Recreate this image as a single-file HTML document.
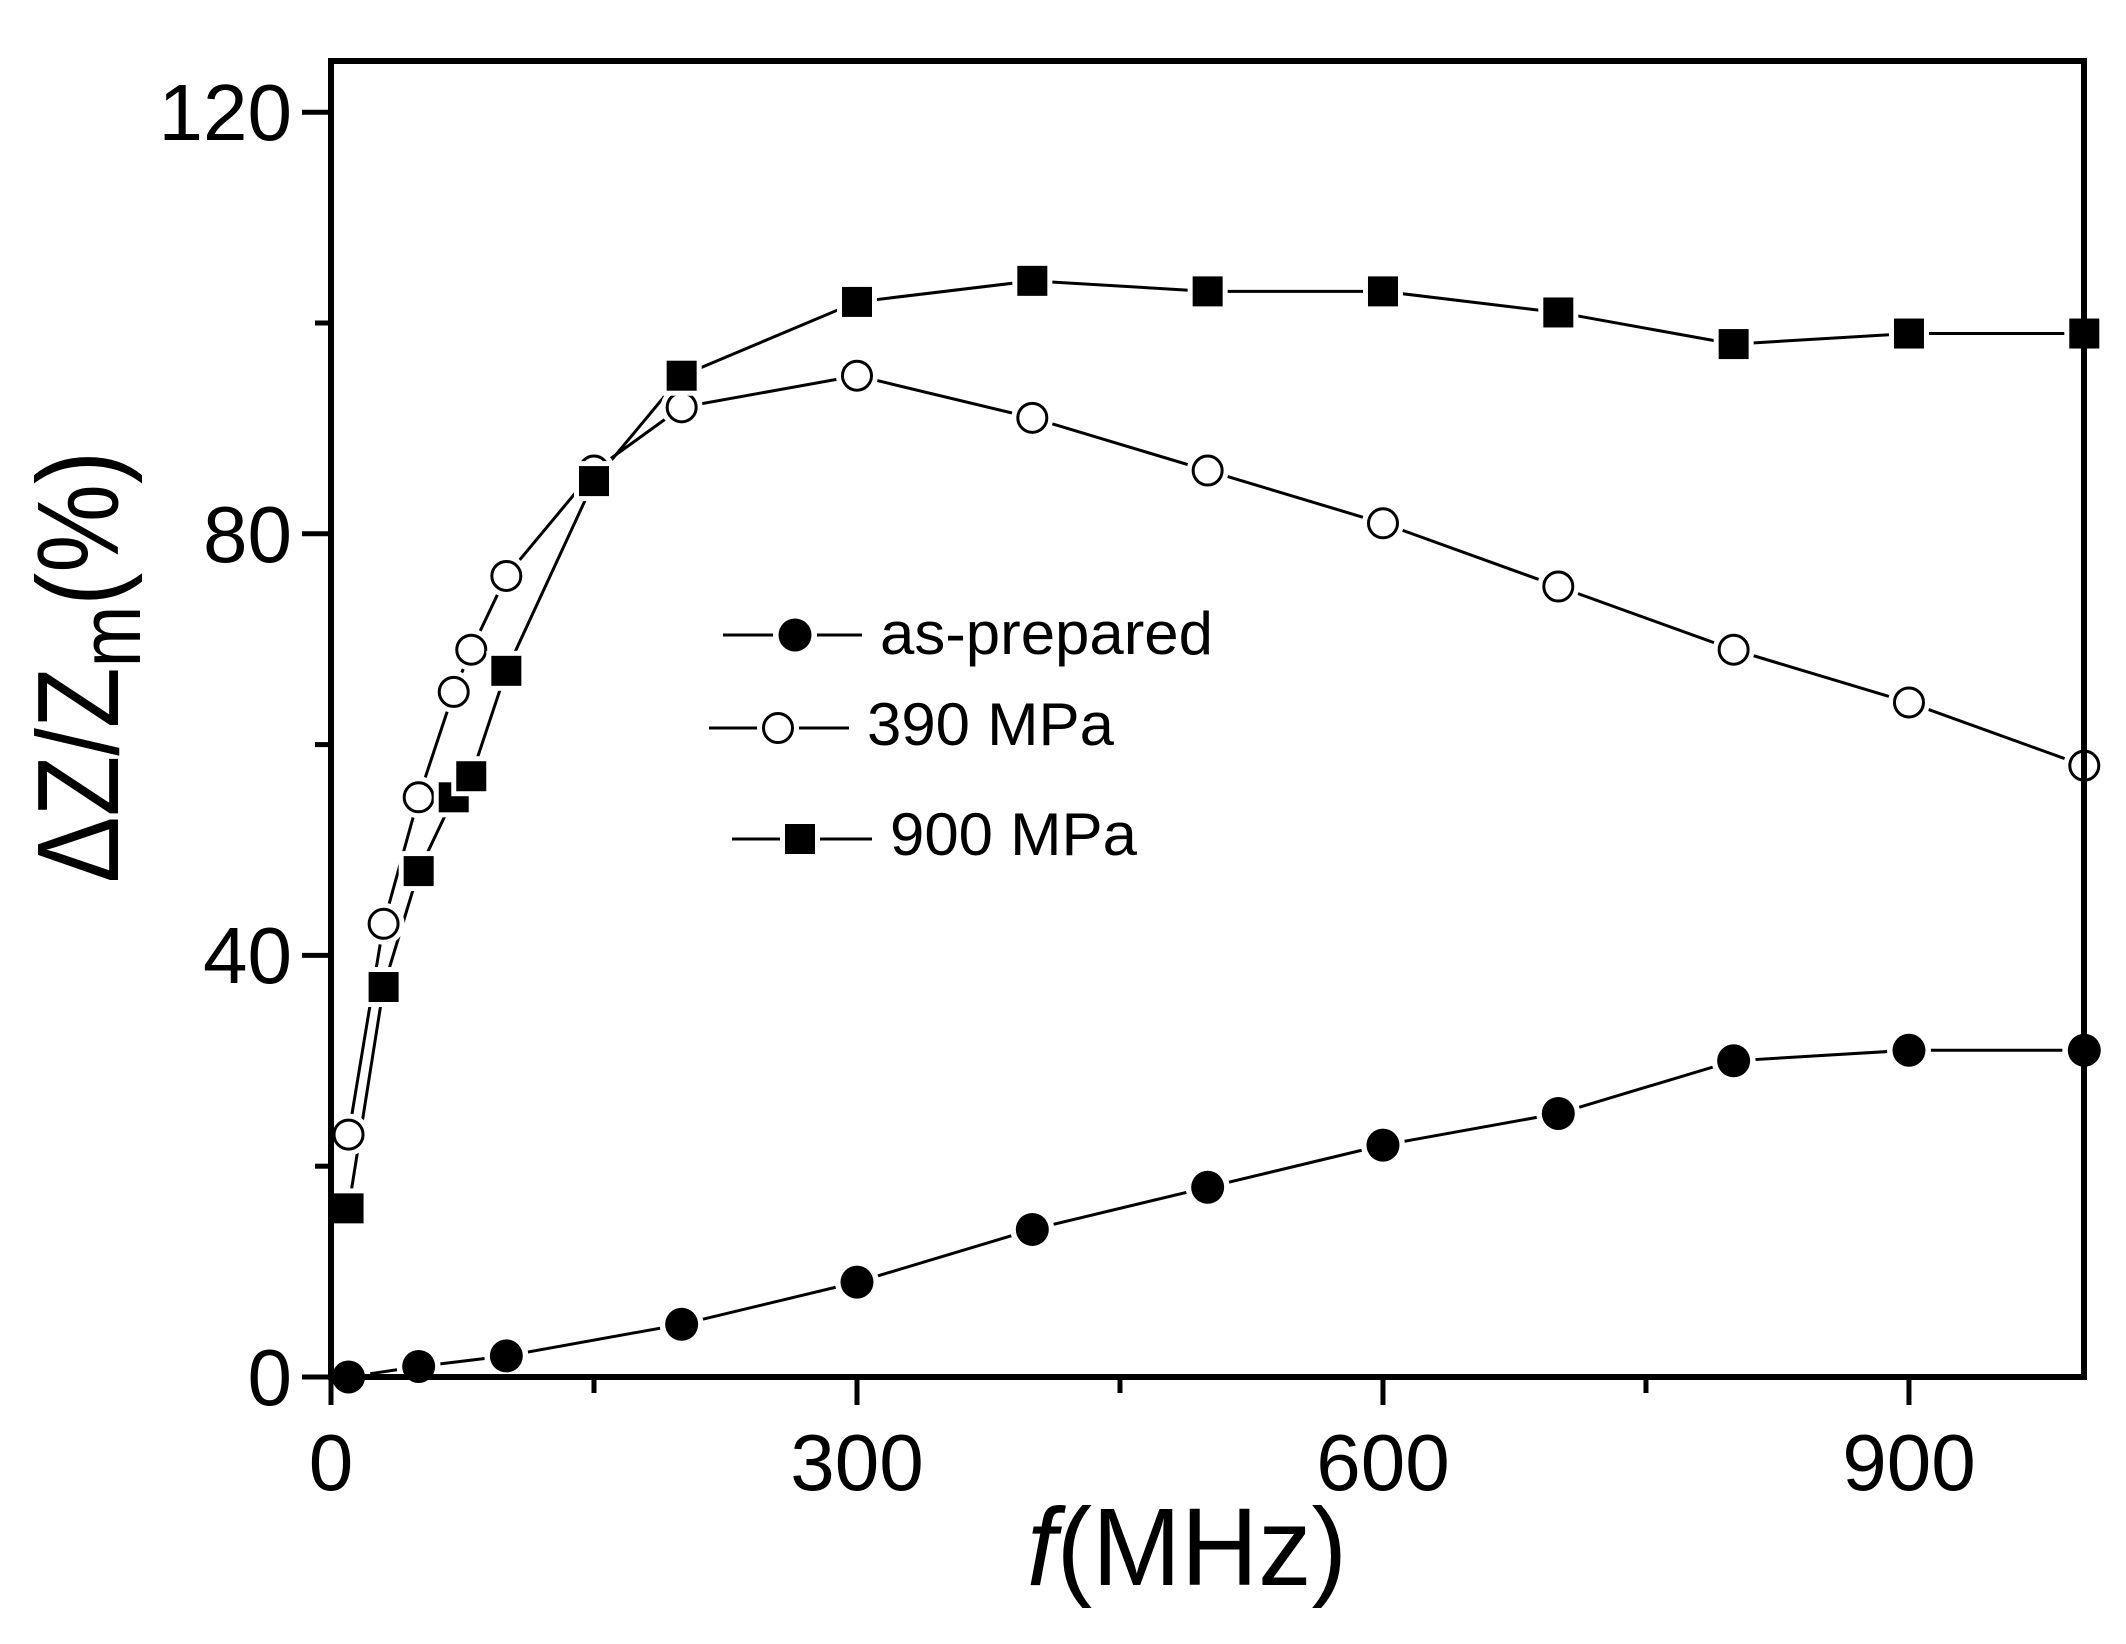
<!DOCTYPE html>
<html><head><meta charset="utf-8"><style>
html,body{margin:0;padding:0;background:#fff;}
svg{display:block;}
text{font-family:"Liberation Sans",Arial,sans-serif;fill:#000;}
</style></head><body>
<svg id="s" width="2126" height="1644" viewBox="0 0 2126 1644" xmlns="http://www.w3.org/2000/svg">
<rect width="2126" height="1644" fill="#fff"/>
<g id="plot"></g>
<rect x="331" y="61" width="1753" height="1316" fill="none" stroke="#000" stroke-width="6"/>
<g id="ticks" stroke="#000" stroke-width="5"></g>
<g font-size="80" text-anchor="end">
<text x="292" y="1405">0</text>
<text x="292" y="983">40</text>
<text x="292" y="562">80</text>
<text x="292" y="140">120</text>
</g>
<g font-size="80" text-anchor="middle">
<text x="331" y="1490">0</text>
<text x="857" y="1490">300</text>
<text x="1383" y="1490">600</text>
<text x="1909" y="1490">900</text>
</g>
<text x="1027" y="1585" font-size="110" textLength="320" lengthAdjust="spacingAndGlyphs"><tspan font-style="italic">f</tspan>(MHz)</text>
<text transform="translate(118,883) rotate(-90)" font-size="116" textLength="432" lengthAdjust="spacingAndGlyphs">ΔZ/Z<tspan font-size="86" dy="22">m</tspan><tspan dy="-22">(%)</tspan></text>
<g id="legend"></g>
<g font-size="60">
<text x="880" y="654" textLength="333" lengthAdjust="spacingAndGlyphs">as-prepared</text>
<text x="867" y="745" textLength="247" lengthAdjust="spacingAndGlyphs">390 MPa</text>
<text x="890" y="855" textLength="247" lengthAdjust="spacingAndGlyphs">900 MPa</text>
</g>
</svg>
<script>
var NS="http://www.w3.org/2000/svg";
function X(f){return 331+f*1.7533;}
function Y(v){return 1377-v*10.54;}
function el(p,t,a){var e=document.createElementNS(NS,t);for(var k in a)e.setAttribute(k,a[k]);p.appendChild(e);return e;}
var plot=document.getElementById('plot');
var A=[[10,0],[50,1],[100,2],[200,5],[300,9],[400,14],[500,18],[600,22],[700,25],[800,30],[900,31],[1000,31]];
var B=[[10,23],[30,43],[50,55],[70,65],[80,69],[100,76],[150,86],[200,92],[300,95],[400,91],[500,86],[600,81],[700,75],[800,69],[900,64],[1000,58]];
var C=[[10,16],[30,37],[50,48],[70,55],[80,57],[100,67],[150,85],[200,95],[300,102],[400,104],[500,103],[600,103],[700,101],[800,98],[900,99],[1000,99]];
function line(d){el(plot,'polyline',{points:d.map(function(p){return X(p[0])+','+Y(p[1]);}).join(' '),fill:'none',stroke:'#000','stroke-width':3});}
line(A);line(B);line(C);
function marker(g,t,x,y){
 if(t=='c'){el(g,'circle',{cx:x,cy:y,r:22,fill:'#fff'});el(g,'circle',{cx:x,cy:y,r:16.5,fill:'#000'});}
 else if(t=='o'){el(g,'circle',{cx:x,cy:y,r:21,fill:'#fff'});el(g,'circle',{cx:x,cy:y,r:14.5,fill:'#fff',stroke:'#000','stroke-width':3});}
 else {el(g,'rect',{x:x-20,y:y-20,width:40,height:40,fill:'#fff'});el(g,'rect',{x:x-15,y:y-15,width:30,height:30,fill:'#000'});}
}
A.forEach(function(p){marker(plot,'c',X(p[0]),Y(p[1]));});
B.forEach(function(p){marker(plot,'o',X(p[0]),Y(p[1]));});
C.forEach(function(p){marker(plot,'s',X(p[0]),Y(p[1]));});
var lg=document.getElementById('legend');
[[723,862,635,795,'c'],[709,849,728,778,'o'],[732,872,839,800,'s']].forEach(function(l){
 el(lg,'line',{x1:l[0],x2:l[1],y1:l[2],y2:l[2],stroke:'#000','stroke-width':3});marker(lg,l[4],l[3],l[2]);});
var tk=document.getElementById('ticks');
for(var v=0;v<=120;v+=20){var maj=v%40==0;el(tk,'line',{x1:331,x2:maj?302:315,y1:Y(v),y2:Y(v)});}
for(var f=0;f<=1000;f+=150){var maj=f%300==0;el(tk,'line',{x1:X(f),x2:X(f),y1:1377,y2:maj?1405:1393});}
</script>
</body></html>
